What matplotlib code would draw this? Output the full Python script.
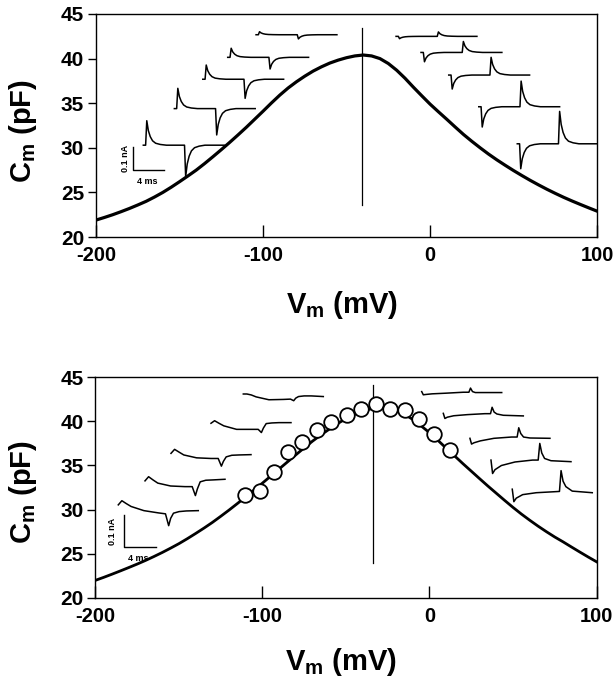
import numpy as np
import matplotlib
matplotlib.use("Agg")
import matplotlib.pyplot as plt

plt.rcParams["font.family"] = ["Liberation Sans", "DejaVu Sans"]
plt.rcParams["font.weight"] = "bold"
plt.rcParams["axes.unicode_minus"] = False
plt.rcParams["mathtext.fontset"] = "custom"
plt.rcParams["mathtext.rm"] = "Liberation Sans:bold"
plt.rcParams["mathtext.it"] = "Liberation Sans:bold"
plt.rcParams["mathtext.bf"] = "Liberation Sans:bold"

# ---- capacitance curves (pF) read at 5 mV steps ----
v_grid = np.arange(-200, 101, 5)
cm_top = [21.9, 22.19, 22.5, 22.84, 23.2, 23.59, 24.0, 24.48, 25.0, 25.58,
          26.2, 26.84, 27.5, 28.23, 29.0, 29.79, 30.6, 31.44, 32.3, 33.2,
          34.1, 35.02, 35.9, 36.7, 37.4, 38.03, 38.6, 39.08, 39.5, 39.83,
          40.1, 40.3, 40.4, 40.3, 40.0, 39.45, 38.7, 37.8, 36.8, 35.84,
          34.9, 34.04, 33.2, 32.34, 31.5, 30.73, 30.0, 29.3, 28.65, 28.04,
          27.45, 26.89, 26.35, 25.84, 25.35, 24.89, 24.45, 24.04, 23.65, 23.27,
          22.9]
cm_bot = [22.0, 22.34, 22.7, 23.07, 23.45, 23.84, 24.25, 24.69, 25.15, 25.64,
          26.15, 26.71, 27.3, 27.91, 28.55, 29.24, 29.95, 30.69, 31.45, 32.22,
          33.0, 33.8, 34.6, 35.4, 36.2, 36.99, 37.75, 38.45, 39.1, 39.73,
          40.3, 40.76, 41.15, 41.4, 41.55, 41.47, 41.25, 40.78, 40.2, 39.47,
          38.7, 37.84, 36.95, 36.08, 35.2, 34.35, 33.5, 32.66, 31.85, 31.04,
          30.25, 29.5, 28.8, 28.13, 27.5, 26.9, 26.35, 25.77, 25.2, 24.64,
          24.1]
vh_top = -41
vh_bot = -34

# measured points (bottom panel)
v_meas = [-110.5, -101.6, -93.2, -84.5, -76.1, -67.5, -58.8, -49.6,
          -41.2, -32.2, -23.9, -14.7, -6.3, 2.6, 12.2]
cm_meas = [31.6, 32.1, 34.2, 36.5, 37.6, 39.05, 39.9, 40.75,
           41.4, 42.0, 41.4, 41.3, 40.2, 38.5, 36.7]

# ---- current traces (ms, nA) ----
# top panel: clean traces, shape of on/off transients
top_t = [0, 0.3, 0.45, 0.65, 0.9, 1.2, 1.6, 2.2, 3.0,
         5.35, 5.5, 5.7, 5.95, 6.25, 6.65, 7.25, 8.0, 10.5]
top_on = [0, 0, 1, 0.6, 0.35, 0.18, 0.08, 0.03, 0,
          0, 0, 0, 0, 0, 0, 0, 0, 0]
top_off = [0, 0, 0, 0, 0, 0, 0, 0, 0,
           0, 1, 0.6, 0.35, 0.18, 0.08, 0.03, 0, 0]
top_left_on = [0.105, 0.087, 0.061, 0.039, 0.013]
top_left_off = [-0.135, -0.113, -0.082, -0.050, -0.018]
top_right_on = [-0.010, -0.040, -0.060, -0.087, -0.107]
top_right_off = [0.019, 0.047, 0.076, 0.110, 0.139]

# bottom panel: recorded traces
bl_t = [0, 0.45, 1.0, 1.6, 3.2, 5.0, 5.9, 6.3, 6.55, 6.9, 7.6, 8.5, 10.0]
bl_i = [
    [0, 0.013, 0.004, -0.005, -0.018, -0.025, -0.028, -0.065, -0.042, -0.026, -0.021, -0.019, -0.018],
    [0, 0.013, 0.003, -0.007, -0.016, -0.018, -0.018, -0.046, -0.025, -0.003, 0.002, 0.003, 0.005],
    [0, 0.0125, 0.004, -0.005, -0.014, -0.016, -0.016, -0.040, -0.025, -0.011, -0.006, -0.005, -0.004],
    [0, 0.008, 0.0, -0.008, -0.019, -0.019, -0.019, -0.029, -0.015, -0.001, 0.001, 0.002, 0.002],
    [0, 0.0, -0.003, -0.009, -0.018, -0.017, -0.016, -0.021, -0.013, -0.008, -0.006, -0.006, -0.008],
]
br_t = [0, 0.2, 0.5, 1.3, 3.0, 5.2, 5.9, 6.1, 6.35, 6.7, 7.5, 10.0]
br_i = [
    [0, -0.010, -0.009, -0.007, -0.005, -0.002, -0.002, 0.011, 0.0, -0.003, -0.003, -0.003],
    [0, -0.016, -0.012, -0.0075, -0.004, -0.001, -0.001, 0.019, 0.004, -0.002, -0.006, -0.008],
    [0, -0.018, -0.014, -0.008, 0.0, 0.004, 0.004, 0.033, 0.015, 0.004, 0.001, 0.0],
    [0, -0.042, -0.030, -0.017, -0.006, 0.0, 0.0, 0.052, 0.022, 0.005, -0.002, -0.005],
    [0, -0.039, -0.028, -0.017, -0.011, -0.008, -0.007, 0.058, 0.025, 0.008, -0.006, -0.011],
]

# where each trace sits in the inset frame (start ms, baseline nA)
top_left_pos = [(6.14, 0.394), (10.17, 0.551), (13.86, 0.677), (17.10, 0.771), (20.78, 0.868)]
top_right_pos = [(38.96, 0.861), (42.2, 0.792), (45.8, 0.695), (49.7, 0.559), (54.7, 0.400)]
bot_left_pos = [(2.85, 0.291), (6.19, 0.366), (9.44, 0.452), (14.44, 0.546), (18.48, 0.6375)]
bot_right_pos = [(40.78, 0.645), (43.48, 0.577), (46.81, 0.499), (49.44, 0.431), (52.1, 0.340)]


fig = plt.figure(dpi=100, figsize=(6.14, 6.76))

rect_top = [0.1564, 0.6494, 0.8160, 0.3299]
rect_bot = [0.1555, 0.1154, 0.8160, 0.3269]


def style(ax, ylab_y, xlab_y):
    ax.set_xlim(-200, 100)
    ax.set_ylim(20, 45)
    ax.set_xticks([-200, -100, 0, 100])
    ax.set_yticks([20, 25, 30, 35, 40, 45])
    ax.tick_params(axis="x", direction="in", length=9, width=1, pad=6.5, labelsize=14.5)
    ax.tick_params(axis="y", direction="out", length=5.5, width=1, pad=3, labelsize=15)
    for s in ax.spines.values():
        s.set_linewidth(1.0)
    ax.set_xlabel(r"V$_\mathrm{m}$ (mV)", fontsize=21, fontweight="bold")
    ax.set_ylabel(r"C$_\mathrm{m}$ (pF)", fontsize=21, fontweight="bold")
    ax.xaxis.set_label_coords(0.49, xlab_y)
    ax.yaxis.set_label_coords(-0.113, ylab_y)


def overlay(rect, xmax, ymax):
    a = fig.add_axes(rect)
    a.set_xlim(0, xmax)
    a.set_ylim(0, ymax)
    a.axis("off")
    a.patch.set_alpha(0)
    return a


# ---------- top panel ----------
ax1 = fig.add_axes(rect_top)
ax1.plot(v_grid, cm_top, color="black", lw=2.3)
ax1.plot([vh_top, vh_top], [23.6, 43.4], color="black", lw=0.9)
style(ax1, 0.475, -0.235)

tr1 = overlay(rect_top, 65.06, 0.957)
t = np.array(top_t)
for (t0, b0), a_on, a_off in zip(top_left_pos, top_left_on, top_left_off):
    tr1.plot(t0 + t, b0 + a_on * np.array(top_on) + a_off * np.array(top_off), color="black", lw=1.1)
for (t0, b0), a_on, a_off in zip(top_right_pos, top_right_on, top_right_off):
    tr1.plot(t0 + t, b0 + a_on * np.array(top_on) + a_off * np.array(top_off), color="black", lw=1.1)
# scale bar
tr1.plot([4.77, 4.77, 8.77], [0.3876, 0.2876, 0.2876], color="black", lw=1.0)
tr1.text(3.77, 0.339, "0.1 nA", rotation=90, ha="center", va="center", fontsize=6.5)
tr1.text(6.66, 0.237, "4 ms", ha="center", va="center", fontsize=6.5)

# ---------- bottom panel ----------
ax2 = fig.add_axes(rect_bot)
ax2.plot(v_grid, cm_bot, color="black", lw=2.0)
ax2.plot([vh_bot, vh_bot], [24.0, 44.1], color="black", lw=0.9)
ax2.plot(v_meas, cm_meas, "o", ms=10.5, mfc="white", mec="black", mew=1.3, zorder=3)
style(ax2, 0.48, -0.215)

tr2 = overlay(rect_bot, 62.63, 0.6906)
for (t0, b0), y in zip(bot_left_pos, bl_i):
    tr2.plot(t0 + np.array(bl_t), b0 + np.array(y), color="black", lw=1.1)
for (t0, b0), y in zip(bot_right_pos, br_i):
    tr2.plot(t0 + np.array(br_t), b0 + np.array(y), color="black", lw=1.1)
tr2.plot([3.56, 3.56, 7.56], [0.26, 0.16, 0.16], color="black", lw=1.0)
tr2.text(2.15, 0.207, "0.1 nA", rotation=90, ha="center", va="center", fontsize=6.5)
tr2.text(5.31, 0.124, "4 ms", ha="center", va="center", fontsize=6.5)

plt.savefig("out.png")
